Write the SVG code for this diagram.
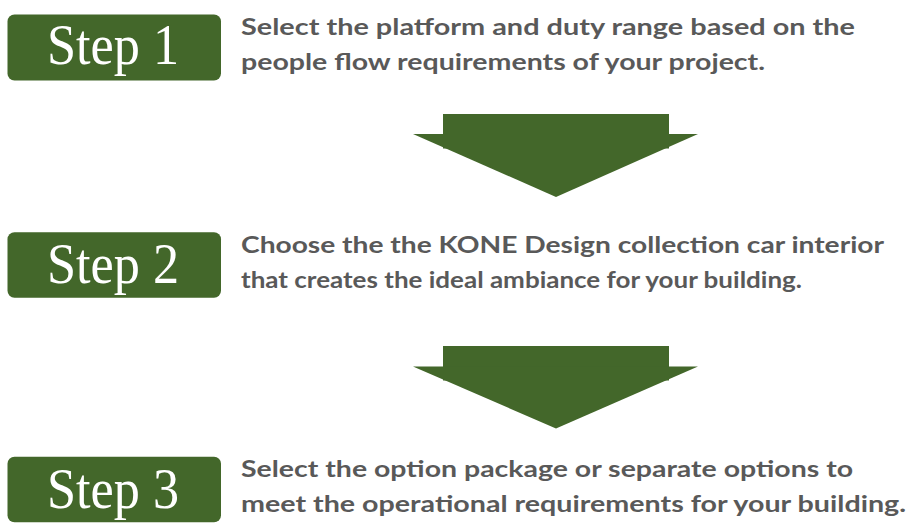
<svg xmlns="http://www.w3.org/2000/svg" width="913" height="523" viewBox="0 0 913 523">
  <style>
    .box { fill: #43672a; }
    .step { font-family: "Liberation Serif", "DejaVu Serif", serif; font-size: 56px; fill: #ffffff; text-anchor: middle; }
    .desc { font-family: Lato, "Noto Sans", "DejaVu Sans", sans-serif; font-weight: bold; font-size: 23px; fill: #595959; }
    .arrow { fill: #43672a; }
  </style>
  <rect width="913" height="523" fill="#ffffff"/>
  <g id="step1">
    <rect class="box" x="7.5" y="14.5" width="213.5" height="66" rx="7"/>
    <text class="step" x="113" y="64" textLength="132" lengthAdjust="spacingAndGlyphs">Step 1</text>
    <text class="desc" x="241" y="34.5" textLength="614" lengthAdjust="spacingAndGlyphs">Select the platform and duty range based on the</text>
    <text class="desc" x="241" y="70" textLength="524" lengthAdjust="spacingAndGlyphs">people flow requirements of your project.</text>
  </g>
  <g id="step2">
    <rect class="box" x="7.5" y="232.3" width="213.5" height="65.5" rx="7"/>
    <text class="step" x="113" y="283" textLength="132" lengthAdjust="spacingAndGlyphs">Step 2</text>
    <text class="desc" x="241" y="253" textLength="643" lengthAdjust="spacingAndGlyphs">Choose the the KONE Design collection car interior</text>
    <text class="desc" x="241" y="288" textLength="561" lengthAdjust="spacingAndGlyphs">that creates the ideal ambiance for your building.</text>
  </g>
  <g id="step3">
    <rect class="box" x="7.5" y="456.7" width="213.5" height="65.5" rx="7"/>
    <text class="step" x="113" y="507.5" textLength="132" lengthAdjust="spacingAndGlyphs">Step 3</text>
    <text class="desc" x="241" y="476.7" textLength="612" lengthAdjust="spacingAndGlyphs">Select the option package or separate options to</text>
    <text class="desc" x="241" y="511.7" textLength="665" lengthAdjust="spacingAndGlyphs">meet the operational requirements for your building.</text>
  </g>
  <g id="connectors">
    <g id="arrow1">
      <rect class="arrow" x="443" y="114" width="226" height="34.5"/>
      <polygon class="arrow" points="413,134 698,134 556,197"/>
    </g>
    <g id="arrow2">
      <rect class="arrow" x="443" y="346" width="226" height="34.5"/>
      <polygon class="arrow" points="413,366.5 698,366.5 556,428.5"/>
    </g>
  </g>
</svg>
